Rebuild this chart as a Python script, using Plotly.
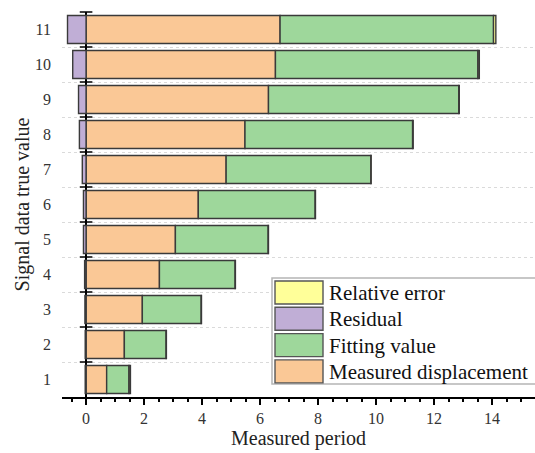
import plotly.graph_objects as go

# data
signal = [1, 2, 3, 4, 5, 6, 7, 8, 9, 10, 11]
measured = [0.71, 1.32, 1.94, 2.53, 3.08, 3.87, 4.83, 5.48, 6.29, 6.53, 6.69]
fitting = [0.77, 1.44, 2.03, 2.61, 3.20, 4.03, 4.99, 5.78, 6.56, 6.98, 7.36]
rel_error = [0.05, 0.01, 0.01, 0.01, 0.01, 0.01, 0.01, 0.02, 0.02, 0.05, 0.08]
residual = [-0.03, -0.03, -0.04, -0.05, -0.09, -0.09, -0.13, -0.23, -0.26, -0.46, -0.64]
x_ticks = [0, 2, 4, 6, 8, 10, 12, 14]

names = ["Measured displacement", "Fitting value", "Residual", "Relative error"]
colors = ["#FAC896", "#9ED79B", "#C0AED6", "#FFFF99"]
border = "#3a3a3a"
serif = "Liberation Serif, Times New Roman, serif"

W, H = 535, 453
ML, MR, MT, MB = 62, 0, 12, 56
PW, PH = W - ML - MR, H - MT - MB

fig = go.Figure()
for vals, name, col in [(measured, names[0], colors[0]),
                        (fitting, names[1], colors[1]),
                        (rel_error, names[3], colors[3]),
                        (residual, names[2], colors[2])]:
    fig.add_trace(go.Bar(
        x=vals, y=signal, orientation="h", name=name, width=0.8,
        marker=dict(color=col, line=dict(color=border, width=1.4)),
        showlegend=False,
    ))

# tick marks on the zero line (category boundaries)
bounds = [s + 0.5 for s in signal]
fig.add_trace(go.Scatter(
    x=[0] * len(bounds), y=bounds, mode="markers",
    marker=dict(symbol="line-ew-open", size=9, color="black",
                line=dict(color="black", width=1.5)),
    showlegend=False, hoverinfo="skip", cliponaxis=False,
))

fig.update_layout(
    width=W, height=H,
    margin=dict(l=ML, r=MR, t=MT, b=MB, autoexpand=False),
    barmode="relative",
    plot_bgcolor="white", paper_bgcolor="white",
    font=dict(family=serif, color="#222"),
    showlegend=False,
    xaxis=dict(
        range=[-0.83, 15.48], tickvals=x_ticks, showgrid=False, automargin=False,
        zeroline=True, zerolinecolor="black", zerolinewidth=2,
        showline=True, linecolor="black", linewidth=1.5,
        ticks="outside", ticklen=6, tickwidth=1.5, tickcolor="black",
        minor=dict(dtick=0.5, tick0=0, ticks="outside", ticklen=3, tickcolor="black"),
        tickfont=dict(size=16, family=serif, color="#333"),
        title=dict(text="Measured period", font=dict(size=20, family=serif, color="#222"), standoff=3),
    ),
    yaxis=dict(
        range=[0.5, 11.5], tickvals=signal, showgrid=False, zeroline=False, automargin=False,
        showline=False, ticks="", ticklabelstandoff=10,
        minor=dict(tick0=0.5, dtick=1, showgrid=True, gridcolor="#dadada",
                   griddash="dot", gridwidth=1),
        tickfont=dict(size=16, family=serif, color="#333"),
        title=dict(text="Signal data true value", font=dict(size=20, family=serif, color="#222"), standoff=0),
    ),
)


def px(x):
    return (x - ML) / PW


def py(y):
    return (H - MB - y) / PH


# legend box drawn by hand to get the large swatches
fig.add_shape(type="rect", xref="paper", yref="paper",
              x0=px(272), y0=py(384), x1=px(540), y1=py(278),
              line=dict(color="#b5b5b5", width=1.5), fillcolor="white", layer="above")
order = [3, 2, 1, 0]
for i, k in enumerate(order):
    top = 281 + i * 26.3
    fig.add_shape(type="rect", xref="paper", yref="paper",
                  x0=px(275), x1=px(323), y0=py(top + 23), y1=py(top),
                  line=dict(color="#555", width=1.4), fillcolor=colors[k], layer="above")
    fig.add_annotation(xref="paper", yref="paper", x=px(327), y=py(top + 12),
                       text=names[k], showarrow=False, xanchor="left", yanchor="middle",
                       font=dict(size=21, family=serif, color="#111"))

fig.write_html("out.html", config={"displayModeBar": False},
               post_script="document.body.style.margin='0';")
